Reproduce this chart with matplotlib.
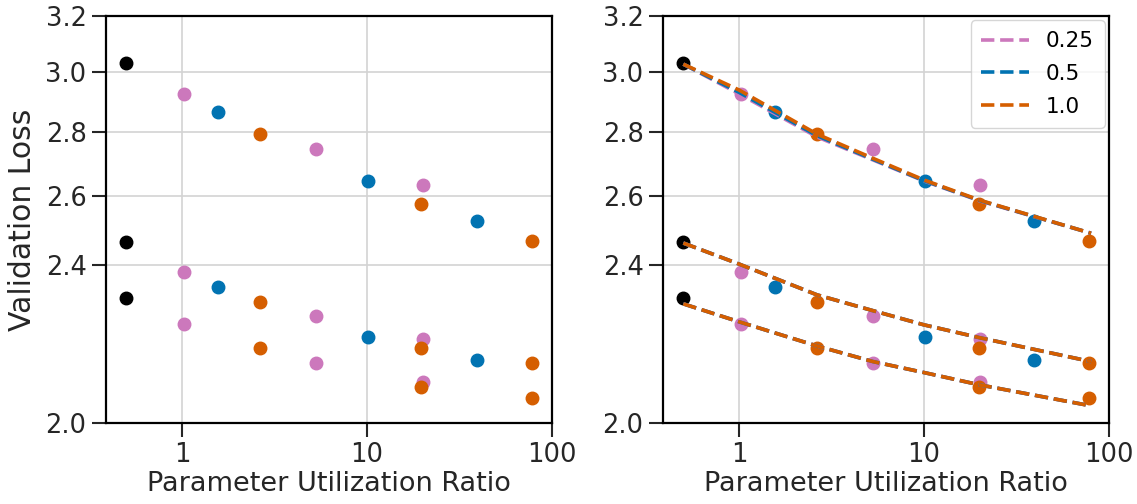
import matplotlib
matplotlib.use("Agg")
import matplotlib.pyplot as plt
from matplotlib.ticker import NullLocator, FixedLocator, FixedFormatter

# measured points (three model groups per ratio)
black_x = [0.5, 0.5, 0.5]
black_y = [3.03, 2.465, 2.31]

pink_x = [1.03, 1.03, 1.03, 5.3, 5.3, 5.3, 20, 20, 20]
pink_y = [2.926, 2.38, 2.243, 2.745, 2.264, 2.143, 2.632, 2.204, 2.096]

blue_x = [1.57, 1.57, 10.1, 10.1, 39.5, 39.5]
blue_y = [2.863, 2.339, 2.644, 2.209, 2.526, 2.150]

orange_x = [2.64, 2.64, 2.64, 19.7, 19.7, 19.7, 78, 78, 78]
orange_y = [2.793, 2.301, 2.181, 2.577, 2.181, 2.086, 2.468, 2.143, 2.059]

# fitted curves
fit_x = [0.5, 1, 2.64, 5.3, 10, 20, 80]
fit_top = [3.027, 2.938, 2.792, 2.715, 2.648, 2.587, 2.49]
fit_mid = [2.462, 2.403, 2.319, 2.277, 2.240, 2.207, 2.147]
fit_bot = [2.295, 2.248, 2.186, 2.147, 2.120, 2.090, 2.040]
top_blue = [3.027, 2.93, 2.787, 2.712, 2.646, 2.586, 2.49]
top_pink = [3.027, 2.925, 2.783, 2.71, 2.645, 2.585, 2.49]

labels = ["0.25", "0.5", "1.0"]
c_pink, c_blue, c_orange = "#cc78bc", "#0173b2", "#d55e00"

yticks = [2.0, 2.4, 2.6, 2.8, 3.0, 3.2]
xticks = [1, 10, 100]

plt.rcParams["font.family"] = "DejaVu Sans"
fig = plt.figure(figsize=(11.37, 5.04), dpi=100)
ax1 = fig.add_axes([0.0932, 0.1607, 0.3923, 0.8075])
ax2 = fig.add_axes([0.5831, 0.1607, 0.3923, 0.8075])

for ax in (ax1, ax2):
    ax.set_xscale("log")
    ax.set_yscale("log")
    ax.set_xlim(0.388, 100)
    ax.set_ylim(2.0, 3.2)
    ax.grid(True, color="#d3d3d3", lw=1.2)
    ax.set_axisbelow(True)
    ax.xaxis.set_major_locator(FixedLocator(xticks))
    ax.xaxis.set_major_formatter(FixedFormatter([str(t) for t in xticks]))
    ax.yaxis.set_major_locator(FixedLocator(yticks))
    ax.yaxis.set_major_formatter(FixedFormatter(["%.1f" % t for t in yticks]))
    ax.xaxis.set_minor_locator(NullLocator())
    ax.yaxis.set_minor_locator(NullLocator())
    ax.tick_params(labelsize=18.5, length=10, width=1.5, pad=4, color="#262626",
                   labelcolor="#262626", direction="out")
    for s in ax.spines.values():
        s.set_linewidth(1.6)
        s.set_color("black")
    ax.set_xlabel("Parameter Utilization Ratio", fontsize=19.5, color="#262626",
                  labelpad=2)

    ax.plot(pink_x, pink_y, "o", color=c_pink, ms=9, zorder=3)
    ax.plot(blue_x, blue_y, "o", color=c_blue, ms=9, zorder=3)
    ax.plot(orange_x, orange_y, "o", color=c_orange, ms=9, zorder=3)
    ax.plot(black_x, black_y, "o", color="black", ms=9, zorder=3)

ax1.set_ylabel("Validation Loss", fontsize=21.5, color="#262626", labelpad=6)

# fit lines, orange drawn last (on top)
ax2.plot(fit_x, top_pink, "--", color=c_pink, lw=2.6, label=labels[0], zorder=4)
ax2.plot(fit_x, fit_mid, "--", color=c_pink, lw=2.6, zorder=4)
ax2.plot(fit_x, fit_bot, "--", color=c_pink, lw=2.6, zorder=4)
ax2.plot(fit_x, top_blue, "--", color=c_blue, lw=2.6, label=labels[1], zorder=4)
ax2.plot(fit_x, fit_mid, "--", color=c_blue, lw=2.6, zorder=4)
ax2.plot(fit_x, fit_bot, "--", color=c_blue, lw=2.6, zorder=4)
ax2.plot(fit_x, fit_top, "--", color=c_orange, lw=2.6, label=labels[2], zorder=4)
ax2.plot(fit_x, fit_mid, "--", color=c_orange, lw=2.6, zorder=4)
ax2.plot(fit_x, fit_bot, "--", color=c_orange, lw=2.6, zorder=4)

ax2.legend(loc="upper right", fontsize=15.5, frameon=True, handlelength=2.2,
           borderpad=0.5, labelspacing=0.6, borderaxespad=0.2, framealpha=0.8)

fig.savefig("out.png", dpi=100)
